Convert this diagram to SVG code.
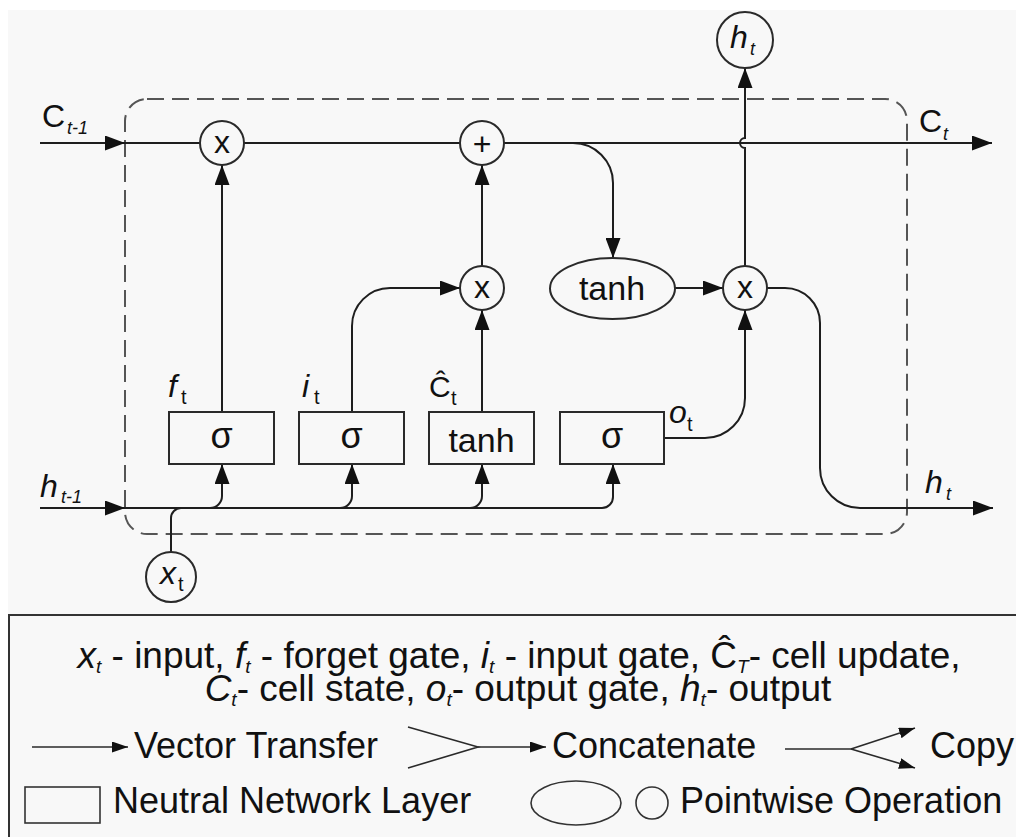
<svg xmlns="http://www.w3.org/2000/svg" width="1016" height="837" viewBox="0 0 1016 837">
  <style>
    .ln { fill: none; stroke: #1e1e1e; stroke-width: 2; }
    .thin { fill: none; stroke: #2a2a2a; stroke-width: 1.6; }
    .node { fill: #f8f8f8; stroke: #2a2a2a; stroke-width: 2; }
    .frame { fill: none; stroke: #555; stroke-width: 2; stroke-dasharray: 17 8; }
    text { font-family: "Liberation Sans", Arial, sans-serif; fill: #111; }
    .op { font-size: 32px; text-anchor: middle; }
    .fn { font-size: 34px; text-anchor: middle; }
    .sg { font-size: 36px; text-anchor: middle; }
    .lbl { font-size: 32px; font-style: italic; }
    .cap { font-size: 32px; }
    .sub { font-size: 18px; font-style: italic; }
    .subu { font-size: 20px; }
    .leg { font-size: 36px; }
    .leg2 { font-size: 37px; }
    .lsub { font-size: 19px; font-style: italic; }
    .it { font-style: italic; }
  </style>
  <defs>
    <marker id="arr" viewBox="0 0 20 15" refX="20" refY="7.5" markerWidth="20" markerHeight="15" markerUnits="userSpaceOnUse" orient="auto">
      <path d="M0 0 L20 7.5 L0 15 Z" fill="#111"/>
    </marker>
    <marker id="arrS" viewBox="0 0 16 11" refX="16" refY="5.5" markerWidth="16" markerHeight="11" markerUnits="userSpaceOnUse" orient="auto">
      <path d="M0 0 L16 5.5 L0 11 Z" fill="#111"/>
    </marker>
  </defs>

  <!-- page -->
  <rect x="0" y="0" width="1016" height="837" fill="#ffffff"/>
  <rect x="8" y="10" width="1008" height="827" fill="#f8f8f8"/>

  <!-- cell boundary -->
  <rect class="frame" x="125" y="99" width="782" height="435" rx="22" ry="22"/>

  <!-- connectors -->
  <g id="connectors">
    <!-- cell state line -->
    <path class="ln" d="M40 143 L125 143" marker-end="url(#arr)"/>
    <path class="ln" d="M125 143 L200 143"/>
    <path class="ln" d="M244 143 L460 143"/>
    <path class="ln" d="M504 143 L992 143" marker-end="url(#arr)"/>
    <!-- cell state to tanh -->
    <path class="ln" d="M573 143 A40 40 0 0 1 613 183 L613 258" marker-end="url(#arr)"/>
    <!-- hidden input line and branches -->
    <path class="ln" d="M40 508 L125 508" marker-end="url(#arr)"/>
    <path class="ln" d="M125 508 L602 508 A11 11 0 0 0 613 497 L613 464" marker-end="url(#arr)"/>
    <path class="ln" d="M210 508 A12 12 0 0 0 222 496 L222 464" marker-end="url(#arr)"/>
    <path class="ln" d="M340 508 A12 12 0 0 0 352 496 L352 464" marker-end="url(#arr)"/>
    <path class="ln" d="M470 508 A12 12 0 0 0 482 496 L482 464" marker-end="url(#arr)"/>
    <!-- x_t joins -->
    <path class="ln" d="M171 552 L171 518 A10 10 0 0 1 181 508"/>
    <!-- gate outputs -->
    <path class="ln" d="M222 412 L222 165" marker-end="url(#arr)"/>
    <path class="ln" d="M352 412 L352 326 A38 38 0 0 1 390 288 L460 288" marker-end="url(#arr)"/>
    <path class="ln" d="M482 412 L482 310" marker-end="url(#arr)"/>
    <path class="ln" d="M482 266 L482 165" marker-end="url(#arr)"/>
    <path class="ln" d="M664 438 L705 438 A40 40 0 0 0 745 398 L745 310" marker-end="url(#arr)"/>
    <path class="ln" d="M675 288 L723 288" marker-end="url(#arr)"/>
    <!-- output up, hopping over the cell state line -->
    <path class="ln" d="M745 266 L745 148 A5 5 0 0 1 745 138 L745 68" marker-end="url(#arr)"/>
    <!-- output to next step -->
    <path class="ln" d="M767 288 L785 288 A35 35 0 0 1 820 323 L820 468 A40 40 0 0 0 860 508 L993 508" marker-end="url(#arr)"/>
  </g>

  <!-- pointwise operations -->
  <g id="mul-forget">
    <circle class="node" cx="222" cy="143" r="22"/>
    <text class="op" x="222" y="153">x</text>
  </g>
  <g id="add-state">
    <circle class="node" cx="482" cy="143" r="22"/>
    <text class="op" x="482" y="155">+</text>
  </g>
  <g id="mul-input">
    <circle class="node" cx="482" cy="288" r="22"/>
    <text class="op" x="482" y="298">x</text>
  </g>
  <g id="mul-output">
    <circle class="node" cx="745" cy="288" r="22"/>
    <text class="op" x="745" y="298">x</text>
  </g>
  <g id="tanh-state">
    <ellipse class="node" cx="612.5" cy="288.5" rx="62.5" ry="30.5"/>
    <text class="fn" x="612" y="300">tanh</text>
  </g>

  <!-- network layers -->
  <g id="forget-gate">
    <rect class="node" x="169" y="412" width="105" height="52"/>
    <text class="sg" x="221.5" y="448">σ</text>
    <text class="lbl" x="168" y="397">f</text><text class="subu" x="181" y="404">t</text>
  </g>
  <g id="input-gate">
    <rect class="node" x="299" y="412" width="105" height="52"/>
    <text class="sg" x="351.5" y="448">σ</text>
    <text class="lbl" x="302" y="397">i</text><text class="subu" x="314" y="404">t</text>
  </g>
  <g id="cell-update">
    <rect class="node" x="429" y="412" width="105" height="52"/>
    <text class="fn" x="481.5" y="452">tanh</text>
    <text x="429" y="397" style="font-size:30px">Ĉ</text><text class="subu" x="451" y="405">t</text>
  </g>
  <g id="output-gate">
    <rect class="node" x="560" y="412" width="104" height="52"/>
    <text class="sg" x="612" y="448">σ</text>
    <text class="lbl" x="669" y="423">o</text><text class="subu" x="687" y="431">t</text>
  </g>

  <!-- inputs and outputs -->
  <g id="input-x">
    <circle class="node" cx="171" cy="577" r="25"/>
    <text class="lbl" x="160" y="584">x</text><text class="subu" x="178" y="591">t</text>
  </g>
  <g id="output-h">
    <circle class="node" cx="745" cy="40" r="28"/>
    <text class="lbl" x="730" y="48">h</text><text class="sub" x="750" y="55">t</text>
  </g>
  <g id="labels">
    <text class="cap" x="42" y="127">C</text><text class="sub" x="67" y="134">t-1</text>
    <text class="cap" x="919" y="132">C</text><text class="sub" x="943" y="140">t</text>
    <text class="lbl" x="40" y="497">h</text><text class="sub" x="61" y="503">t-1</text>
    <text class="lbl" x="925" y="493">h</text><text class="sub" x="946" y="500">t</text>
  </g>

  <!-- key -->
  <g id="legend">
    <rect x="9" y="615" width="1020" height="240" fill="none" stroke="#333" stroke-width="2"/>
    <text class="leg2" x="519" y="668" text-anchor="middle"><tspan class="it">x</tspan><tspan class="lsub" dy="5">t</tspan><tspan dy="-5"> - input, </tspan><tspan class="it">f</tspan><tspan class="lsub" dy="5">t</tspan><tspan dy="-5"> - forget gate, </tspan><tspan class="it">i</tspan><tspan class="lsub" dy="5">t</tspan><tspan dy="-5"> - input gate, Ĉ</tspan><tspan class="lsub" dy="5">T</tspan><tspan dy="-5">- cell update,</tspan></text>
    <text class="leg2" x="518" y="701" text-anchor="middle"><tspan class="it">C</tspan><tspan class="lsub" dy="5">t</tspan><tspan dy="-5">- cell state, </tspan><tspan class="it">o</tspan><tspan class="lsub" dy="5">t</tspan><tspan dy="-5">- output gate, </tspan><tspan class="it">h</tspan><tspan class="lsub" dy="5">t</tspan><tspan dy="-5">- output</tspan></text>

    <path class="thin" d="M32 747 L128 747" marker-end="url(#arrS)"/>
    <text class="leg" x="134" y="758">Vector Transfer</text>

    <path class="thin" d="M408 727 L478 747 L408 768"/>
    <path class="thin" d="M478 747 L546 747" marker-end="url(#arrS)"/>
    <text class="leg" x="552" y="758">Concatenate</text>

    <path class="thin" d="M785 749 L851 749"/>
    <path class="thin" d="M851 749 L915 728" marker-end="url(#arrS)"/>
    <path class="thin" d="M851 749 L915 768" marker-end="url(#arrS)"/>
    <text class="leg" x="930" y="758">Copy</text>

    <rect x="25" y="787" width="75" height="36" fill="none" stroke="#333" stroke-width="1.6"/>
    <text class="leg" x="113" y="813">Neutral Network Layer</text>

    <ellipse cx="576" cy="803" rx="45" ry="22" fill="none" stroke="#333" stroke-width="1.6"/>
    <circle cx="652" cy="803" r="16" fill="none" stroke="#333" stroke-width="1.6"/>
    <text class="leg" x="680" y="813">Pointwise Operation</text>
  </g>
</svg>
